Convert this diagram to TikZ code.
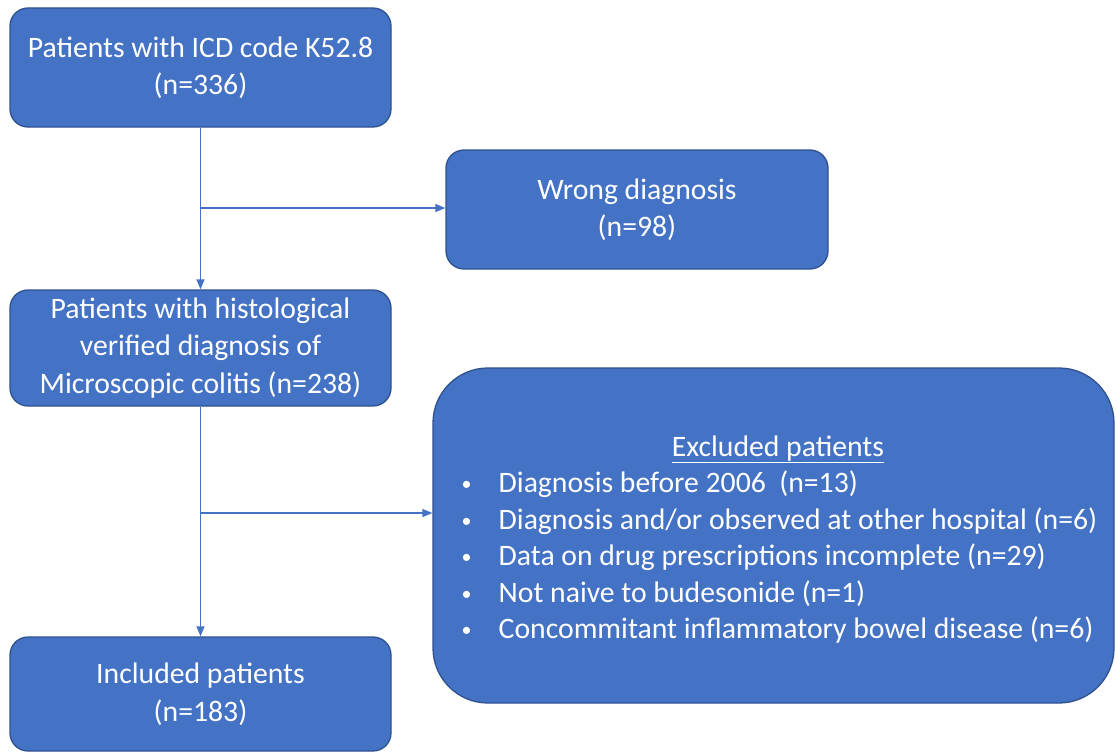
\documentclass[tikz,border=0pt]{standalone}
\usepackage{fontspec}
\setmainfont{Carlito}
\usetikzlibrary{arrows.meta}
\definecolor{boxfill}{HTML}{4472C4}
\definecolor{boxedge}{HTML}{2F528F}
\newcommand{\mybul}{\makebox[40pt][l]{\hspace{3pt}\raisebox{2pt}{\fontsize{20}{20}\selectfont •}}}
\begin{document}
\begin{tikzpicture}[x=1pt,y=-1pt,
  flowbox/.style={draw=boxedge, line width=1.3pt, fill=boxfill, rounded corners=18pt,
    text=white, align=center, inner sep=0pt,
    font=\fontsize{29.7}{37.5}\selectfont},
  conn/.style={draw=boxfill, line width=1.3pt, -{Triangle[length=10pt,width=8pt]}}]
\useasboundingbox (0,0) rectangle (1117,752);
\node[flowbox, minimum width=381pt, minimum height=119pt] (b1) at (200.5,67.5)
  {Patients with ICD code K52.8\\(n=336)};
\node[flowbox, minimum width=382pt, minimum height=119pt] (b2) at (637,209.5)
  {Wrong diagnosis\\(n=98)};
\node[flowbox, minimum width=381pt, minimum height=116pt] (b3) at (200.5,348)
  {Patients with histological\\verified diagnosis of\\Microscopic colitis (n=238)};
\node[flowbox, rounded corners=55pt, minimum width=681pt, minimum height=335pt] (excl) at (773.5,535.5) {};
\node[text=white, inner sep=0pt, font=\fontsize{29.7}{36.5}\selectfont] (excltext) at (778,540)
  {\begin{tabular}{@{}l@{}l@{}}
   \multicolumn{2}{c}{\underline{Excluded patients}}\\
   \mybul & Diagnosis before 2006\ \ (n=13)\\
   \mybul & Diagnosis and/or observed at other hospital (n=6)\\
   \mybul & Data on drug prescriptions incomplete (n=29)\\
   \mybul & Not naive to budesonide (n=1)\\
   \mybul & Concommitant inflammatory\ bowel disease (n=6)
   \end{tabular}};
\node[flowbox, minimum width=381pt, minimum height=114pt] (b5) at (200.5,694)
  {Included patients\\(n=183)};
\coordinate (j1) at (201,208);
\coordinate (j2) at (201,513);
\draw[conn] (b1.south) -- (b3.north);
\draw[conn] (j1) -- (j1 -| b2.west);
\draw[conn] (b3.south) -- (b5.north);
\draw[conn] (j2) -- (j2 -| excl.west);
\end{tikzpicture}
\end{document}
